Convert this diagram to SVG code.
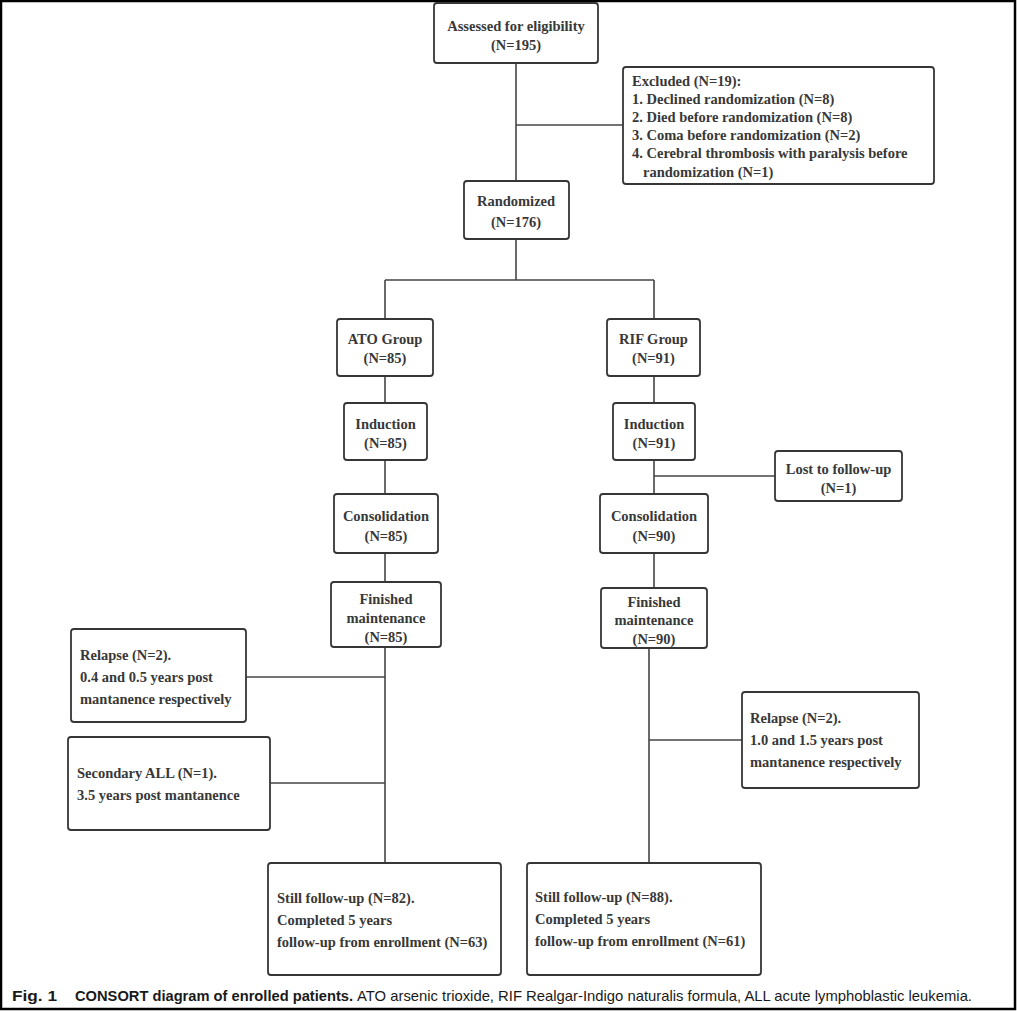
<svg xmlns="http://www.w3.org/2000/svg" width="1017" height="1011" viewBox="0 0 1017 1011">
<style>
  .box { fill: #ffffff; stroke: #363636; stroke-width: 1.8; }
  .t { font-family: "Liberation Serif", "Times New Roman", serif; font-size: 14.5px; font-weight: bold; fill: #383838; }
  .c { text-anchor: middle; }
  .conn line { stroke: #444444; stroke-width: 1.6; fill: none; }
  .cap { font-family: "Liberation Sans", Arial, sans-serif; font-size: 15px; fill: #1a1a1a; }
  .capb { font-weight: bold; }
</style>
<rect x="1" y="1" width="1014" height="1008" fill="#ffffff" stroke="#000000" stroke-width="2.5"/>

<g id="connectors" class="conn">
  <line x1="516" y1="63" x2="516" y2="181"/>
  <line x1="516" y1="125" x2="623" y2="125"/>
  <line x1="516" y1="239" x2="516" y2="280"/>
  <line x1="385" y1="280" x2="654" y2="280"/>
  <line x1="385" y1="280" x2="385" y2="319"/>
  <line x1="654" y1="280" x2="654" y2="319"/>
  <line x1="385" y1="376" x2="385" y2="403"/>
  <line x1="385" y1="460" x2="385" y2="494"/>
  <line x1="385" y1="553" x2="385" y2="582"/>
  <line x1="385" y1="647" x2="385" y2="863"/>
  <line x1="246" y1="677" x2="385" y2="677"/>
  <line x1="270" y1="783" x2="385" y2="783"/>
  <line x1="654" y1="376" x2="654" y2="403"/>
  <line x1="654" y1="460" x2="654" y2="494"/>
  <line x1="654" y1="476" x2="775" y2="476"/>
  <line x1="654" y1="553" x2="654" y2="588"/>
  <line x1="649" y1="648" x2="649" y2="863"/>
  <line x1="649" y1="740" x2="742" y2="740"/>
</g>

<g id="assessed">
  <rect class="box" x="434" y="3" width="164" height="60" rx="3"/>
  <text class="t c" x="516" y="31">Assessed for eligibility</text>
  <text class="t c" x="516" y="50">(N=195)</text>
</g>

<g id="excluded">
  <rect class="box" x="623" y="67" width="311" height="117" rx="3"/>
  <text class="t" x="632" y="86">Excluded (N=19):</text>
  <text class="t" x="632" y="104">1. Declined randomization (N=8)</text>
  <text class="t" x="632" y="122">2. Died before randomization (N=8)</text>
  <text class="t" x="632" y="140">3. Coma before randomization (N=2)</text>
  <text class="t" x="632" y="158">4. Cerebral thrombosis with paralysis before</text>
  <text class="t" x="643" y="177">randomization (N=1)</text>
</g>

<g id="randomized">
  <rect class="box" x="464" y="181" width="105" height="58" rx="3"/>
  <text class="t c" x="516" y="206">Randomized</text>
  <text class="t c" x="516" y="227">(N=176)</text>
</g>

<g id="ato-group">
  <rect class="box" x="337" y="319" width="96" height="57" rx="3"/>
  <text class="t c" x="385" y="344">ATO Group</text>
  <text class="t c" x="385" y="363">(N=85)</text>
</g>

<g id="rif-group">
  <rect class="box" x="607" y="319" width="93" height="57" rx="3"/>
  <text class="t c" x="653.5" y="344">RIF Group</text>
  <text class="t c" x="653.5" y="363">(N=91)</text>
</g>

<g id="ato-induction">
  <rect class="box" x="344" y="403" width="83" height="57" rx="3"/>
  <text class="t c" x="385.5" y="429">Induction</text>
  <text class="t c" x="385.5" y="448">(N=85)</text>
</g>

<g id="rif-induction">
  <rect class="box" x="613" y="403" width="82" height="57" rx="3"/>
  <text class="t c" x="654" y="429">Induction</text>
  <text class="t c" x="654" y="448">(N=91)</text>
</g>

<g id="lost">
  <rect class="box" x="775" y="451" width="127" height="50" rx="3"/>
  <text class="t c" x="838.5" y="474">Lost to follow-up</text>
  <text class="t c" x="838.5" y="493">(N=1)</text>
</g>

<g id="ato-consolidation">
  <rect class="box" x="334" y="494" width="104" height="59" rx="3"/>
  <text class="t c" x="386" y="521">Consolidation</text>
  <text class="t c" x="386" y="541">(N=85)</text>
</g>

<g id="rif-consolidation">
  <rect class="box" x="600" y="494" width="108" height="59" rx="3"/>
  <text class="t c" x="654" y="521">Consolidation</text>
  <text class="t c" x="654" y="541">(N=90)</text>
</g>

<g id="ato-finished">
  <rect class="box" x="331" y="582" width="110" height="65" rx="3"/>
  <text class="t c" x="386" y="604">Finished</text>
  <text class="t c" x="386" y="623">maintenance</text>
  <text class="t c" x="386" y="642">(N=85)</text>
</g>

<g id="rif-finished">
  <rect class="box" x="601" y="588" width="106" height="60" rx="3"/>
  <text class="t c" x="654" y="607">Finished</text>
  <text class="t c" x="654" y="625">maintenance</text>
  <text class="t c" x="654" y="644">(N=90)</text>
</g>

<g id="ato-relapse">
  <rect class="box" x="71" y="629" width="175" height="93" rx="3"/>
  <text class="t" x="80" y="660">Relapse (N=2).</text>
  <text class="t" x="80" y="682">0.4 and 0.5 years post</text>
  <text class="t" x="80" y="704">mantanence respectively</text>
</g>

<g id="ato-secondary">
  <rect class="box" x="68" y="737" width="202" height="93" rx="3"/>
  <text class="t" x="77" y="778">Secondary ALL (N=1).</text>
  <text class="t" x="77" y="800">3.5 years post mantanence</text>
</g>

<g id="rif-relapse">
  <rect class="box" x="742" y="692" width="177" height="96" rx="3"/>
  <text class="t" x="750" y="723">Relapse (N=2).</text>
  <text class="t" x="750" y="745">1.0 and 1.5 years post</text>
  <text class="t" x="750" y="767">mantanence respectively</text>
</g>

<g id="ato-final">
  <rect class="box" x="268" y="863" width="233" height="112" rx="3"/>
  <text class="t" x="277" y="903">Still follow-up (N=82).</text>
  <text class="t" x="277" y="925">Completed 5 years</text>
  <text class="t" x="277" y="947">follow-up from enrollment (N=63)</text>
</g>

<g id="rif-final">
  <rect class="box" x="527" y="863" width="234" height="112" rx="3"/>
  <text class="t" x="535" y="902">Still follow-up (N=88).</text>
  <text class="t" x="535" y="924">Completed 5 years</text>
  <text class="t" x="535" y="946">follow-up from enrollment (N=61)</text>
</g>

<g id="caption">
  <text class="cap capb" x="12" y="1001" textLength="45" lengthAdjust="spacingAndGlyphs">Fig. 1</text>
  <text class="cap capb" x="75" y="1001" textLength="278" lengthAdjust="spacingAndGlyphs">CONSORT diagram of enrolled patients.</text>
  <text class="cap" x="357" y="1001" textLength="615" lengthAdjust="spacingAndGlyphs">ATO arsenic trioxide, RIF Realgar-Indigo naturalis formula, ALL acute lymphoblastic leukemia.</text>
</g>
</svg>
